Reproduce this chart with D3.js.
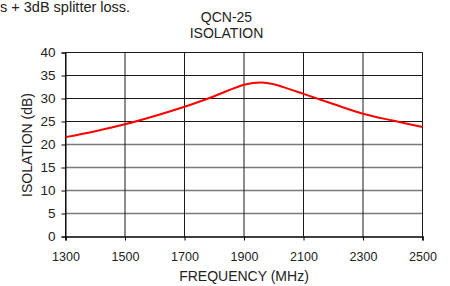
<!DOCTYPE html>
<html><head><meta charset="utf-8">
<script src="https://cdn.jsdelivr.net/npm/d3@7"></script>
<style>
body{margin:0;background:#fff;}
svg{display:block;font-family:"Liberation Sans",Arial,sans-serif;}
</style></head>
<body><svg id="c" width="450" height="286"></svg>
<script>
const freqs = [1300,1400,1500,1600,1700,1800,1900,1960,2000,2050,2100,2200,2300,2400,2500];
const isolation = [21.6,22.9,24.4,26.2,28.2,30.5,33.0,33.5,33.1,32.1,31.0,28.8,26.7,25.2,23.8];
const xTicks = [1300,1500,1700,1900,2100,2300,2500];
const yTicks = [0,5,10,15,20,25,30,35,40];
const titleLines = ["QCN-25","ISOLATION"];
const noteText = "s + 3dB splitter loss.";
const xLabel = "FREQUENCY (MHz)";
const yLabel = "ISOLATION (dB)";

const svg = d3.select("#c");
const x = d3.scaleLinear().domain([1300,2500]).range([65.5,422.5]);
const y = d3.scaleLinear().domain([0,40]).range([236.5,52.5]);

svg.append("text").attr("x",0).attr("y",11.5).attr("font-size",14.5).attr("fill","#222").text(noteText);
titleLines.forEach((t,i)=>{
  svg.append("text").attr("x",226.5).attr("y",21.5+i*16.8).attr("text-anchor","middle")
    .attr("font-size",14).attr("fill","#222").text(t);
});

// horizontal gridlines
svg.append("g").selectAll("line").data(yTicks.filter(d=>d>0)).join("line")
  .attr("x1",x(1300)).attr("x2",x(2500))
  .attr("y1",d=>y(d)).attr("y2",d=>y(d))
  .attr("stroke",d=>d>=25?"#1a1a1a":"#7a7a7a")
  .attr("stroke-width",d=>d>=25?1:1.6);
// vertical gridlines
svg.append("g").selectAll("line").data(xTicks).join("line")
  .attr("x1",d=>x(d)).attr("x2",d=>x(d))
  .attr("y1",y(40)).attr("y2",y(0))
  .attr("stroke","#1a1a1a").attr("stroke-width",1);

// axes
const yAxis = d3.axisLeft(y).tickValues(yTicks).tickSize(4).tickPadding(6);
const gy = svg.append("g").attr("transform",`translate(${x(1300)},0)`).call(yAxis);
gy.select(".domain").attr("stroke","#000");
gy.selectAll(".tick line").attr("stroke","#000");
gy.selectAll("text").attr("font-size",13.5).attr("fill","#222").attr("font-family","Liberation Sans,Arial,sans-serif");

const xAxis = d3.axisBottom(x).tickValues(xTicks).tickFormat(d3.format("d")).tickSize(4).tickPadding(12);
const gx = svg.append("g").attr("transform",`translate(0,${y(0)})`).call(xAxis);
gx.select(".domain").attr("stroke","#000").attr("stroke-width",1.5);
gx.selectAll(".tick line").attr("stroke","#000");
gx.selectAll("text").attr("font-size",12.5).attr("fill","#222").attr("font-family","Liberation Sans,Arial,sans-serif");

svg.append("text").attr("x",244).attr("y",281).attr("text-anchor","middle")
  .attr("font-size",14).attr("fill","#222").text(xLabel);
svg.append("text").attr("transform","translate(31.5,145) rotate(-90)").attr("text-anchor","middle")
  .attr("font-size",14).attr("fill","#222").text(yLabel);

// curve
const line = d3.line().x((d,i)=>x(freqs[i])).y(d=>y(d)).curve(d3.curveCatmullRom.alpha(0.5));
svg.append("path").datum(isolation).attr("d",line)
  .attr("fill","none").attr("stroke","#ff0000").attr("stroke-width",2);
</script></body></html>
